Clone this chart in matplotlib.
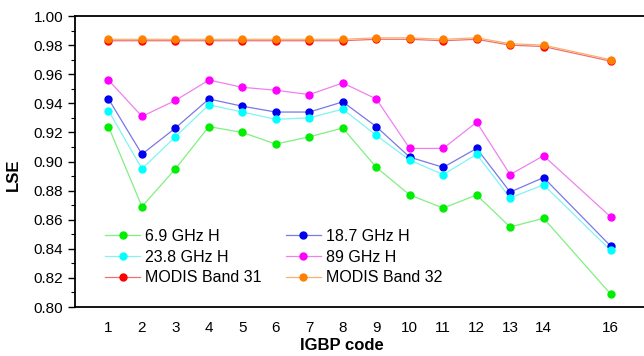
import matplotlib
matplotlib.use("Agg")
import matplotlib.pyplot as plt
from matplotlib.ticker import MultipleLocator
from matplotlib.lines import Line2D

plt.rcParams['font.family'] = ['Liberation Sans', 'DejaVu Sans']

# --- IGBP land cover classes and emissivity per band ---
igbp = [1, 2, 3, 4, 5, 6, 7, 8, 9, 10, 11, 12, 13, 14, 16]

lse_6_9h = [0.924, 0.869, 0.895, 0.924, 0.920, 0.912, 0.917, 0.923, 0.896,
            0.877, 0.868, 0.877, 0.855, 0.861, 0.809]
lse_18_7h = [0.943, 0.905, 0.923, 0.943, 0.938, 0.934, 0.934, 0.941, 0.924,
             0.903, 0.896, 0.909, 0.879, 0.889, 0.842]
lse_23_8h = [0.935, 0.895, 0.917, 0.939, 0.934, 0.929, 0.930, 0.936, 0.918,
             0.901, 0.891, 0.905, 0.875, 0.884, 0.839]
lse_89h = [0.956, 0.931, 0.942, 0.956, 0.951, 0.949, 0.946, 0.954, 0.943,
           0.909, 0.909, 0.927, 0.891, 0.904, 0.862]
lse_modis31 = [0.983, 0.983, 0.983, 0.983, 0.983, 0.983, 0.983, 0.983, 0.984,
               0.984, 0.983, 0.984, 0.980, 0.979, 0.969]
lse_modis32 = [0.984, 0.984, 0.984, 0.984, 0.984, 0.984, 0.984, 0.984, 0.985,
               0.985, 0.984, 0.985, 0.981, 0.980, 0.970]

series = [
    ("6.9 GHz H", lse_6_9h, "#00ee00", "#80f080"),
    ("18.7 GHz H", lse_18_7h, "#0000ee", "#7878e8"),
    ("23.8 GHz H", lse_23_8h, "#00ffff", "#80f4f4"),
    ("89 GHz H", lse_89h, "#ff00ff", "#f080f0"),
    ("MODIS Band 31", lse_modis31, "#ff0000", "#f07070"),
    ("MODIS Band 32", lse_modis32, "#ff8000", "#f8b070"),
]

fig = plt.figure(figsize=(6.44, 3.56), dpi=100)
ax = fig.add_axes([0.1165, 0.1376, 0.8835, 0.8174])

handles = []
for label, vals, mcol, lcol in series:
    ax.plot(igbp, vals, color=lcol, lw=0.9, zorder=2)
    ax.plot(igbp, vals, ls='none', marker='o', ms=5, mfc=mcol, mec=mcol,
            zorder=3)
    handles.append(Line2D([], [], color=lcol, lw=0.9, marker='o', ms=5,
                          mfc=mcol, mec=mcol, label=label))

ax.set_xlim(0, 17)
ax.set_ylim(0.80, 1.00)
ax.set_xticks(igbp)
ax.yaxis.set_major_locator(MultipleLocator(0.02))
ax.yaxis.set_minor_locator(MultipleLocator(0.01))
ax.yaxis.set_major_formatter(plt.FormatStrFormatter('%.2f'))

for side in ('top', 'left', 'bottom'):
    ax.spines[side].set_linewidth(1.3)
ax.spines['right'].set_visible(False)

ax.tick_params(axis='x', length=0, labelsize=11, pad=10)
ax.tick_params(axis='y', which='major', direction='out', length=5,
               width=1.0, labelsize=11)
ax.tick_params(axis='y', which='minor', direction='out', length=3, width=0.8)

ax.set_xlabel("IGBP code", fontsize=12, fontweight='bold')
ax.set_ylabel("LSE", fontsize=12, fontweight='bold')
ax.xaxis.set_label_coords(0.469, -0.108)
ax.yaxis.set_label_coords(-0.095, 0.454)

# legend filled column-wise, so order handles to read row by row
order = [0, 2, 4, 1, 3, 5]
ax.legend(handles=[handles[i] for i in order], ncol=2, loc='lower left',
          bbox_to_anchor=(0.053, 0.075), frameon=False, fontsize=11.5,
          handlelength=2.2, handletextpad=0.3, columnspacing=1.5,
          labelspacing=0.35, borderaxespad=0, borderpad=0)

fig.savefig("out.png", dpi=100)
